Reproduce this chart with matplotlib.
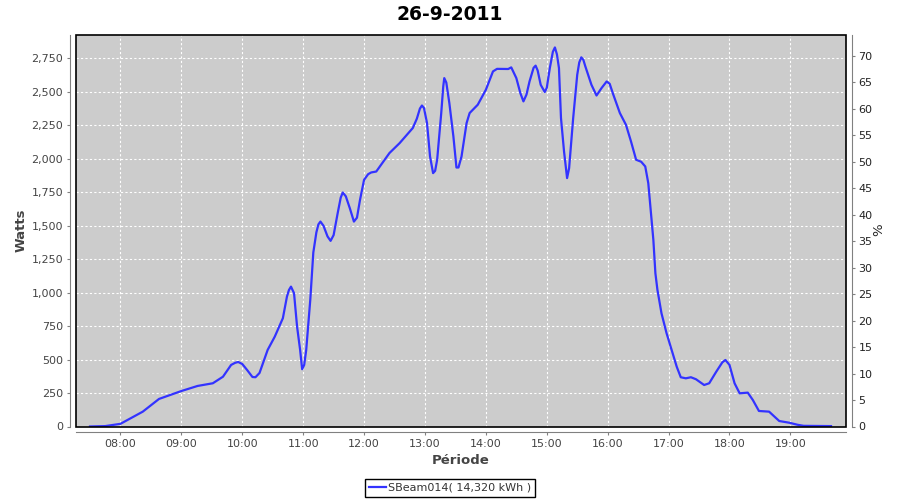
import matplotlib.pyplot as plt
from matplotlib.patches import Rectangle

# Readings of the day (time of day, power in watts)
times = ["07:30", "07:45", "08:00", "08:22", "08:38", "09:00", "09:16", "09:31",
         "09:41", "09:49", "09:53", "09:56", "10:00", "10:05", "10:10", "10:13",
         "10:17", "10:25", "10:32",
         "10:40", "10:44", "10:46", "10:48", "10:51", "10:54", "10:57", "10:59",
         "11:01", "11:03",
         "11:07", "11:10", "11:13", "11:15", "11:17", "11:20", "11:24", "11:27",
         "11:30", "11:34", "11:37", "11:39", "11:42", "11:46", "11:50", "11:53",
         "11:56", "12:00", "12:04", "12:07", "12:12", "12:25", "12:35", "12:48",
         "12:52", "12:55", "12:57",
         "12:59", "13:02", "13:05", "13:08", "13:10", "13:12", "13:16", "13:18",
         "13:19", "13:21", "13:24", "13:28",
         "13:31", "13:33", "13:36", "13:41", "13:44", "13:52", "14:00", "14:07",
         "14:11", "14:22", "14:25", "14:30", "14:34", "14:37", "14:40", "14:43",
         "14:47", "14:49", "14:51", "14:54", "14:58", "15:00",
         "15:03", "15:06", "15:08", "15:10", "15:12", "15:14", "15:17", "15:20",
         "15:22", "15:26", "15:30", "15:32", "15:34", "15:36", "15:38", "15:44",
         "15:49", "15:54", "15:59", "16:02", "16:05",
         "16:12", "16:18", "16:23", "16:28", "16:33", "16:37", "16:40", "16:43",
         "16:45", "16:47", "16:49", "16:53", "16:58", "17:03", "17:08", "17:12",
         "17:17", "17:22", "17:27", "17:35", "17:40", "17:47", "17:53", "17:56",
         "18:00", "18:05", "18:10", "18:18", "18:23", "18:29", "18:39", "18:49",
         "18:59", "19:07", "19:13", "19:40"]
watts = [0, 3, 20, 111, 206, 265, 303, 323,
         372, 460, 476, 482, 467, 420, 370, 368,
         400, 572, 671,
         809, 970, 1020, 1045, 996, 746, 572, 428,
         460, 572,
         946, 1300, 1450, 1510, 1531, 1500, 1420, 1387,
         1430, 1594, 1710, 1748, 1720, 1630, 1531, 1560,
         1693, 1843, 1885, 1898, 1905, 2043, 2117, 2230,
         2300, 2375, 2398,
         2380, 2267, 2017, 1893, 1910, 1993, 2340, 2540,
         2603, 2570, 2417, 2167,
         1935, 1935, 2017, 2267, 2342, 2404, 2516, 2653,
         2672, 2671, 2683, 2603, 2490, 2429, 2480, 2578,
         2680, 2696, 2660, 2553, 2499, 2530,
         2678, 2800, 2832, 2780, 2678, 2304, 2055, 1856,
         1930, 2304, 2628, 2720, 2758, 2740, 2690, 2553,
         2473, 2529, 2578, 2560, 2491,
         2342, 2254, 2129, 1993, 1978, 1943, 1818, 1569,
         1394, 1145, 1021, 846, 697, 572, 447, 368,
         360, 368, 353, 310, 323, 410, 480, 497,
         460, 323, 248, 253, 198, 116, 111, 41,
         28, 13, 5, 3]

hour_ticks = ["08:00", "09:00", "10:00", "11:00", "12:00", "13:00",
              "14:00", "15:00", "16:00", "17:00", "18:00", "19:00"]
watt_ticks = [0, 250, 500, 750, 1000, 1250, 1500, 1750, 2000, 2250, 2500, 2750]
pct_ticks = list(range(0, 75, 5))

title = "26-9-2011"
series_name = "SBeam014( 14,320 kWh )"


def to_hours(t):
    h, m = t.split(":")
    return int(h) + int(m) / 60


x = [to_hours(t) for t in times]

fig = plt.figure(figsize=(9, 5), dpi=100)
ax = fig.add_axes([0.0839, 0.147, 0.8561, 0.783])
ax.set_facecolor("#cccccc")

ax.plot(x, watts, color="#3333ff", lw=1.6, label=series_name)

ax.set_xlim(7.262, 19.913)
ax.set_ylim(0, 2925)
ax.set_xticks([to_hours(t) for t in hour_ticks])
ax.set_xticklabels(hour_ticks)
ax.set_yticks(watt_ticks)
ax.set_yticklabels([f"{v:,}" for v in watt_ticks])
ax.grid(True, color="white", ls=(0, (2, 2)), lw=0.8)

# twin axis for the percentage scale
ax2 = ax.twinx()
ax2.set_ylim(0, 73.9)
ax2.set_yticks(pct_ticks)

gray = "#808080"
for a in (ax, ax2):
    for s in a.spines.values():
        s.set_visible(False)
for name in ("left", "bottom"):
    ax.spines[name].set_visible(True)
    ax.spines[name].set_position(("outward", 4))
    ax.spines[name].set_color(gray)
ax2.spines["right"].set_visible(True)
ax2.spines["right"].set_position(("outward", 4))
ax2.spines["right"].set_color(gray)

ax.tick_params(axis="both", length=2.5, width=0.8, color=gray, labelsize=8,
               labelcolor="#444444", pad=2.5)
ax2.tick_params(axis="y", length=2.5, width=0.8, color=gray, labelsize=8,
                labelcolor="#222222", pad=2.5)

# dark plot outline
ax.add_patch(Rectangle((0, 0), 1, 1, transform=ax.transAxes, fill=False,
                       ec="black", lw=1.2, clip_on=False, zorder=5))

ax.set_ylabel("Watts", fontsize=9.5, fontweight="bold", color="#444444")
ax.yaxis.label.set_verticalalignment("center")
ax.yaxis.set_label_coords(-0.0707, 0.502)
ax.set_xlabel("Période", fontsize=9.5, fontweight="bold", color="#444444")
ax.xaxis.label.set_verticalalignment("center")
ax.xaxis.set_label_coords(0.5003, -0.0856)
ax2.set_ylabel("%", fontsize=9.5, color="#222222")
ax2.yaxis.label.set_verticalalignment("center")
ax2.yaxis.set_label_coords(1.043, 0.502)

fig.text(0.5, 0.972, title, ha="center", va="center", fontsize=13.5,
         fontweight="bold")

leg = ax.legend(loc="center", bbox_to_anchor=(0.5, 0.0245),
                bbox_transform=fig.transFigure, fontsize=8, frameon=True,
                fancybox=False, edgecolor="black", framealpha=1,
                handlelength=1.5, handletextpad=0.2, borderpad=0.35,
                borderaxespad=0)
leg.get_frame().set_linewidth(1)
for t in leg.get_texts():
    t.set_color("#333333")

fig.savefig("out.png", dpi=100)
